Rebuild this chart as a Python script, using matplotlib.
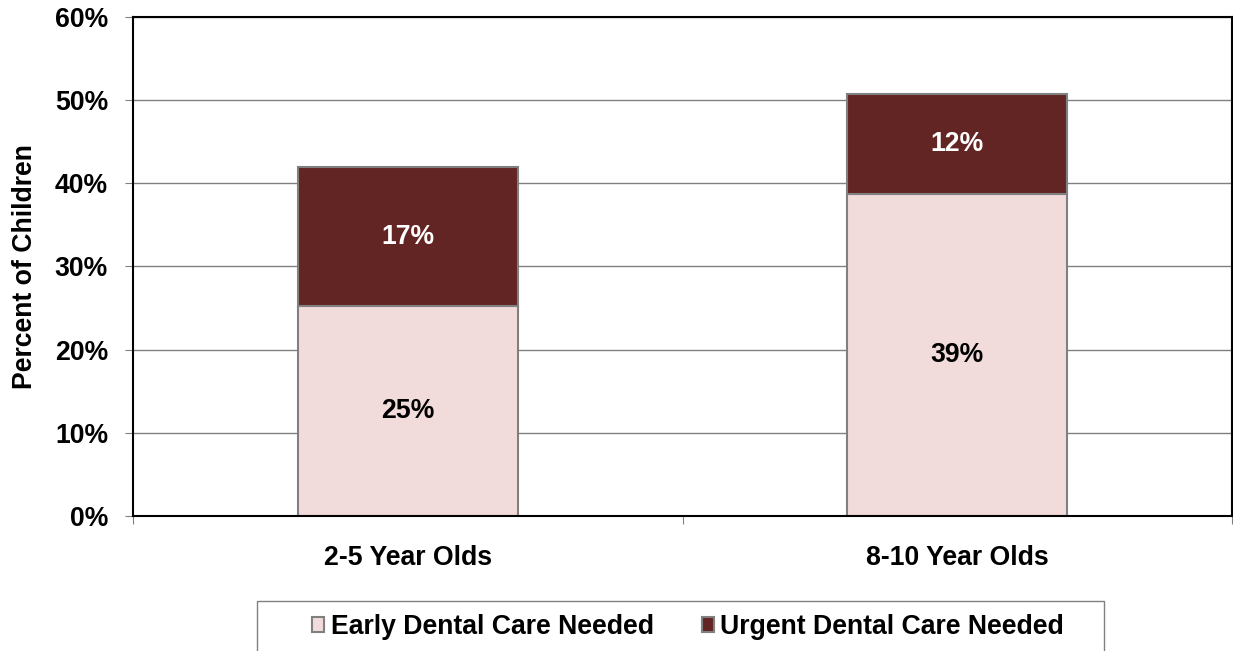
import matplotlib.pyplot as plt
from matplotlib.patches import Rectangle
from matplotlib.ticker import MultipleLocator, PercentFormatter

plt.rcParams["font.family"] = ["Liberation Sans", "DejaVu Sans"]
plt.rcParams["font.weight"] = "bold"

# percent of children by age group
age_groups = ["2-5 Year Olds", "8-10 Year Olds"]
early_care = [25.2, 38.7]
urgent_care = [16.8, 12.1]
series_names = ["Early Dental Care Needed", "Urgent Dental Care Needed"]

early_color = "#F2DCDB"
urgent_color = "#632523"
edge_color = "#808080"
fs = 19.2

fig = plt.figure(figsize=(12.33, 6.51), dpi=100)
ax = fig.add_axes([0.1079, 0.2074, 0.8913, 0.7665])

x = range(len(age_groups))
bars_early = ax.bar(x, early_care, width=0.4, color=early_color,
                    edgecolor=edge_color, linewidth=1.5, zorder=3,
                    label=series_names[0])
bars_urgent = ax.bar(x, urgent_care, width=0.4, bottom=early_care,
                     color=urgent_color, edgecolor=edge_color, linewidth=1.5,
                     zorder=3, label=series_names[1])

for bar, val in zip(bars_early, early_care):
    ax.text(bar.get_x() + bar.get_width() / 2, bar.get_y() + val / 2,
            f"{val:.0f}%", ha="center", va="center", fontsize=fs,
            fontweight="bold", color="black", zorder=4)
for bar, val in zip(bars_urgent, urgent_care):
    ax.text(bar.get_x() + bar.get_width() / 2, bar.get_y() + val / 2,
            f"{val:.0f}%", ha="center", va="center", fontsize=fs,
            fontweight="bold", color="white", zorder=4)

ax.set_xlim(-0.5, 1.5)
ax.set_ylim(0, 60)
ax.yaxis.set_major_locator(MultipleLocator(10))
ax.yaxis.set_major_formatter(PercentFormatter(decimals=0))
ax.grid(axis="y", color=edge_color, linewidth=1, zorder=0)

# category boundaries get the tick marks, names sit between them
ax.set_xticks([-0.5, 0.5, 1.5])
ax.set_xticklabels([])
ax.set_xticks(list(x), minor=True)
ax.set_xticklabels(age_groups, minor=True, fontsize=fs, fontweight="bold")
ax.tick_params(axis="x", which="minor", length=0, pad=21)
ax.tick_params(axis="x", which="major", length=6, color=edge_color)
ax.tick_params(axis="y", length=6, color=edge_color, labelsize=fs, pad=12)

for side in ax.spines.values():
    side.set_linewidth(1.5)
    side.set_color("black")
    side.set_zorder(5)

ax.set_ylabel("Percent of Children", fontsize=fs, fontweight="bold")
ax.yaxis.set_label_coords(-0.0865, 0.5)

# boxed legend along the bottom edge
fig.patches.append(Rectangle((0.2084, -0.05), 0.687, 0.1268,
                             transform=fig.transFigure, fill=False,
                             edgecolor=edge_color, linewidth=1))
fig.legend(handles=[bars_early, bars_urgent], loc="center",
           bbox_to_anchor=(0.558, 0.0369), ncol=2, frameon=False,
           handlelength=0.45, handleheight=0.45,
           handletextpad=0.25, columnspacing=1.8,
           prop={"weight": "bold", "size": fs})

fig.savefig("out.png", dpi=100)
